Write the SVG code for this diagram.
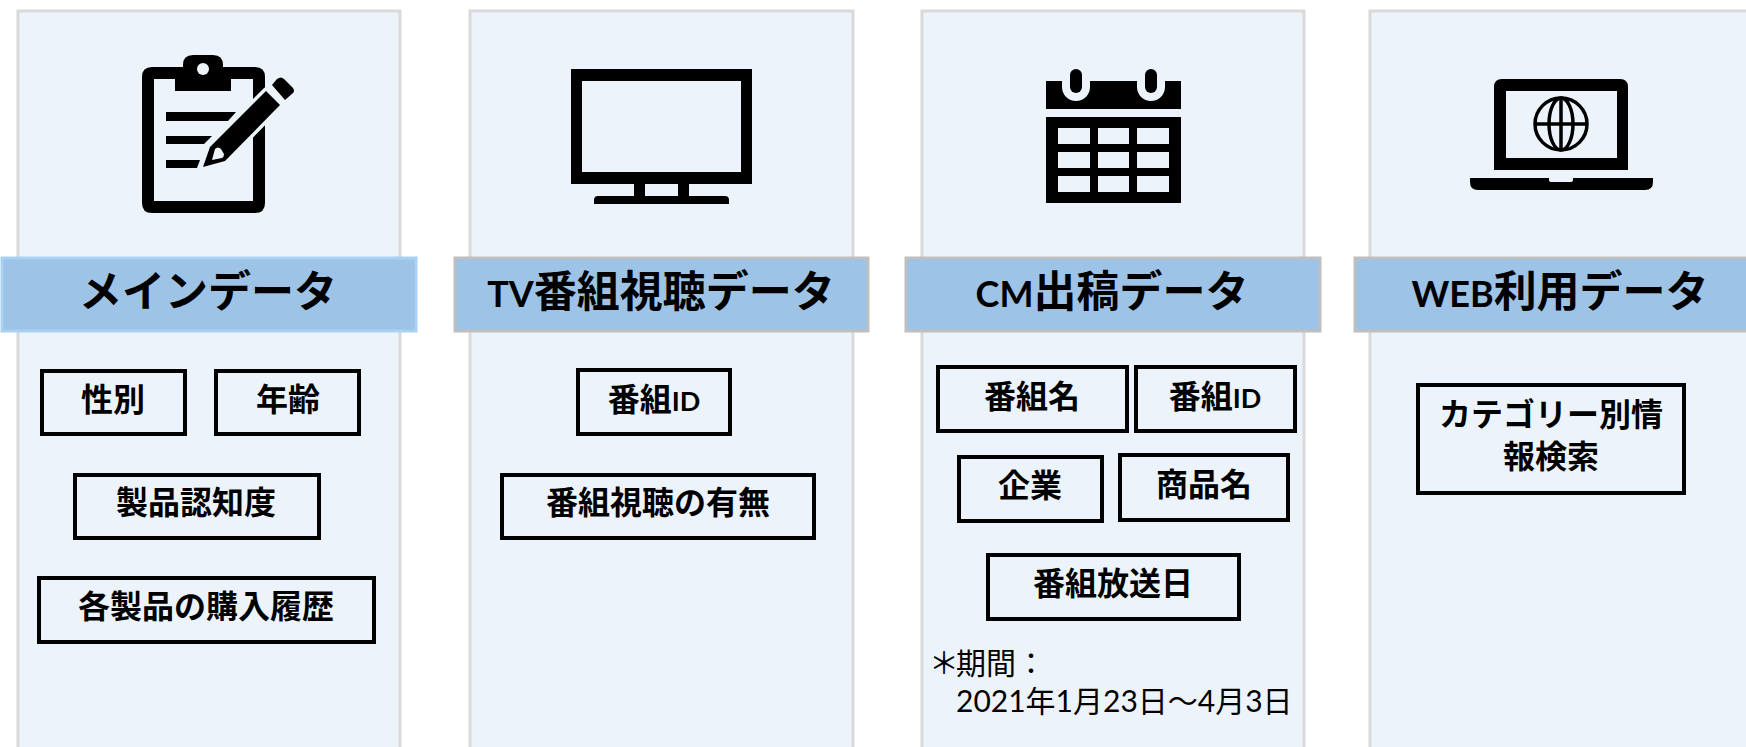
<svg xmlns="http://www.w3.org/2000/svg" width="1746" height="747" viewBox="0 0 1746 747">
<style>
text{font-family:"Lato","Noto Sans CJK JP",sans-serif;text-anchor:middle;fill:#000}
.panel{fill:#ECF3FB;stroke:#D9D9D9;stroke-width:3}
.head{fill:#9DC3E6;stroke:#BFBFBF;stroke-width:3}
.head1{fill:#9DC3E6;stroke:#A9D1F3;stroke-width:3}
.ht{font-size:43px;font-weight:700}
.ht tspan{font-size:36px}
.box{fill:none;stroke:#000;stroke-width:4}
.bt{font-size:32px;font-weight:700}
.bt tspan{font-size:27px}
.note{font-size:30px;text-anchor:start}
.bg{fill:#ECF3FB}
</style>
<rect width="1746" height="747" fill="#fff"/>
<g id="panel-main">
<rect class="panel" x="18" y="11" width="382" height="750"/>
<g id="icon-clipboard">
<path fill-rule="evenodd" d="M152 67H183V65Q183 55 193 55H213Q223 55 223 65V67H255Q265 67 265 77V203Q265 213 255 213H152Q142 213 142 203V77Q142 67 152 67ZM154 79V201H253V79H231V91H175V79Z"/>
<circle class="bg" cx="203" cy="69" r="6"/>
<path d="M166 112H236L228 121H166ZM166 136H212L204 144H166ZM166 160H200L197 168H166Z"/>
<path class="bg" stroke="#ECF3FB" stroke-width="7" stroke-linejoin="round" d="M203 167L210 147L266 91L280 105L225 161Z"/>
<path d="M203 167L210 147L266 91L280 105L225 161Z"/>
<path class="bg" d="M212 160L215 149Q218 146 221 149L224 154Q224 157 222 158Z"/>
<path d="M272 85L277 79Q281 76 284 79L293 88Q295 91 293 93L285 100Z"/>
</g>
<rect class="head1" x="2" y="258" width="414" height="73"/>
<text class="ht" x="208" y="307">メインデータ</text>
<g id="box-gender"><rect class="box" x="42" y="371" width="143" height="63"/><text class="bt" x="113" y="411">性別</text></g>
<g id="box-age"><rect class="box" x="216" y="371" width="143" height="63"/><text class="bt" x="288" y="411">年齢</text></g>
<g id="box-awareness"><rect class="box" x="75" y="475" width="244" height="63"/><text class="bt" x="196" y="514">製品認知度</text></g>
<g id="box-history"><rect class="box" x="39" y="578" width="335" height="64"/><text class="bt" x="206" y="618">各製品の購入履歴</text></g>
</g>
<g id="panel-tv">
<rect class="panel" x="470" y="11" width="383" height="750"/>
<g id="icon-tv">
<path fill-rule="evenodd" d="M571 69H752V184H689V196H725Q729 196 729 200V204H594V200Q594 196 598 196H634V184H571ZM582 81V172H741V81ZM645 184V196H678V184Z"/>
</g>
<rect class="head" x="455" y="258" width="413" height="73"/>
<text class="ht" x="661" y="307"><tspan>TV</tspan>番組視聴データ</text>
<g id="box-tv-id"><rect class="box" x="578" y="370" width="152" height="64"/><text class="bt" x="654" y="411">番組<tspan>ID</tspan></text></g>
<g id="box-viewing"><rect class="box" x="502" y="475" width="312" height="63"/><text class="bt" x="658" y="514">番組視聴の有無</text></g>
</g>
<g id="panel-cm">
<rect class="panel" x="922" y="11" width="382" height="750"/>
<g id="icon-calendar">
<path fill-rule="evenodd" d="M1046 81H1062V87A14 14 0 0 0 1090 87V81H1137V87A14 14 0 0 0 1165 87V81H1181V109H1046ZM1046 117H1181V203H1046ZM1058 128V144H1090V128ZM1098 128V144H1129V128ZM1137 128V144H1169V128ZM1058 152V168H1090V152ZM1098 152V168H1129V152ZM1137 152V168H1169V152ZM1058 176V192H1090V176ZM1098 176V192H1129V176ZM1137 176V192H1169V176Z"/>
<rect x="1070" y="69" width="12" height="24" rx="6"/>
<rect x="1145" y="69" width="12" height="24" rx="6"/>
</g>
<rect class="head" x="906" y="258" width="414" height="73"/>
<text class="ht" x="1112" y="307"><tspan>CM</tspan>出稿データ</text>
<g id="box-program-name"><rect class="box" x="938" y="367" width="189" height="64"/><text class="bt" x="1032" y="408">番組名</text></g>
<g id="box-cm-id"><rect class="box" x="1136" y="367" width="159" height="64"/><text class="bt" x="1215" y="408">番組<tspan>ID</tspan></text></g>
<g id="box-company"><rect class="box" x="959" y="457" width="143" height="64"/><text class="bt" x="1030" y="497">企業</text></g>
<g id="box-product"><rect class="box" x="1120" y="455" width="168" height="65"/><text class="bt" x="1204" y="496">商品名</text></g>
<g id="box-air-date"><rect class="box" x="988" y="555" width="251" height="64"/><text class="bt" x="1113" y="595">番組放送日</text></g>
<text class="note" x="929" y="674">＊<tspan dx="-3">期間：</tspan></text>
<text class="note" x="956" y="712">2021年1月23日～4月3日</text>
</g>
<g id="panel-web">
<rect class="panel" x="1370" y="11" width="400" height="750"/>
<g id="icon-laptop">
<path fill-rule="evenodd" d="M1502 79H1620Q1628 79 1628 87V170H1494V87Q1494 79 1502 79ZM1506 91V158H1617V91Z"/>
<path d="M1470 178H1549V180Q1549 182 1552 182H1570Q1573 182 1573 180V178H1653V182Q1653 190 1645 190H1478Q1470 190 1470 182Z"/>
<g fill="none" stroke="#000" stroke-width="3.5">
<circle cx="1561" cy="124" r="26"/>
<ellipse cx="1561" cy="124" rx="12" ry="26"/>
<path d="M1561 98V150M1535 124H1587"/>
</g>
</g>
<rect class="head" x="1355" y="258" width="400" height="73"/>
<text class="ht" x="1560" y="307"><tspan>WEB</tspan>利用データ</text>
<g id="box-search"><rect class="box" x="1418" y="385" width="266" height="108"/><text class="bt" x="1551" y="426">カテゴリー別情</text><text class="bt" x="1551" y="468">報検索</text></g>
</g>
</svg>
